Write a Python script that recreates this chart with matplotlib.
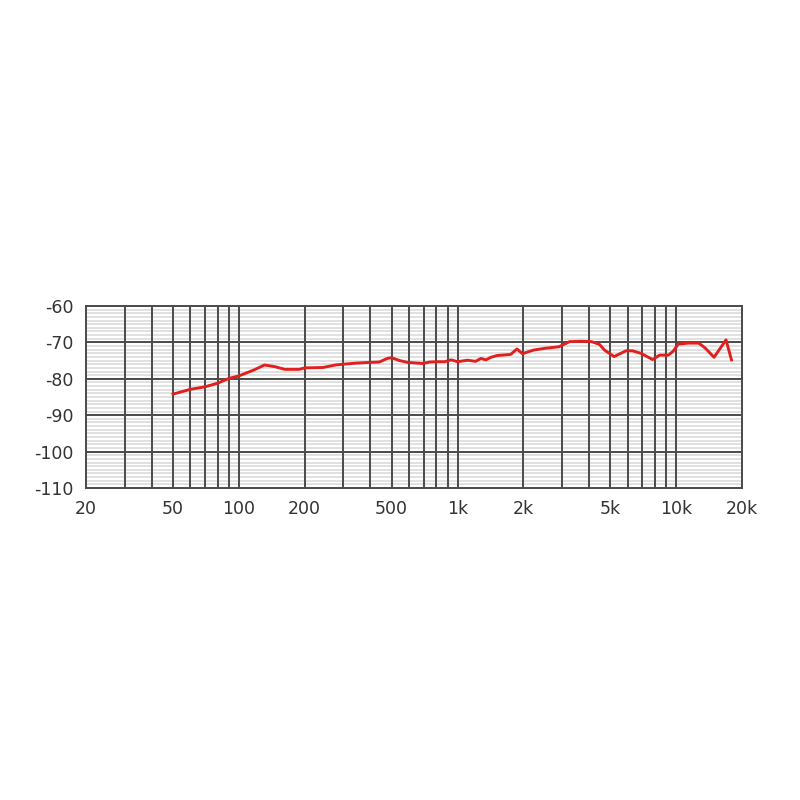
import numpy as np
import matplotlib
matplotlib.use("Agg")
import matplotlib.pyplot as plt
from matplotlib.ticker import FixedLocator, NullFormatter

# Frequency response (Hz, dB)
freq = [50, 60, 70, 80, 90, 100, 117, 131, 147, 162, 189, 200, 242, 277, 300,
        342, 394, 438, 478, 499, 544, 593, 694, 745, 813, 873, 935, 1000,
        1110, 1210, 1280, 1350, 1420, 1520, 1600, 1750, 1870, 1980, 2230,
        2530, 2910, 3250, 3690, 4100, 4450, 4700, 5200, 5900, 6300, 6900,
        7800, 8400, 9200, 9700, 10200, 11300, 12700, 13600, 14900, 16900,
        17900]
level = [-84.2, -82.9, -82.2, -81.2, -79.9, -79.2, -77.6, -76.2, -76.7, -77.4,
         -77.4, -77.0, -76.9, -76.2, -76.0, -75.7, -75.5, -75.4, -74.4, -74.2,
         -75.0, -75.5, -75.8, -75.4, -75.3, -75.3, -74.8, -75.3, -74.9, -75.2,
         -74.4, -74.8, -74.1, -73.6, -73.5, -73.3, -71.8, -73.1, -72.1, -71.6,
         -71.2, -69.8, -69.7, -69.8, -70.5, -72.1, -73.9, -72.3, -72.3, -73.0,
         -74.7, -73.5, -73.5, -72.4, -70.5, -70.2, -70.2, -71.6, -74.1, -69.3,
         -74.8]

x_ticks = [20, 50, 100, 200, 500, 1000, 2000, 5000, 10000, 20000]
x_labels = ["20", "50", "100", "200", "500", "1k", "2k", "5k", "10k", "20k"]
y_ticks = [-60, -70, -80, -90, -100, -110]
y_labels = ["-60", "-70", "-80", "-90", "-100", "-110"]

fig = plt.figure(figsize=(8, 8), dpi=100)
ax = fig.add_axes([0.1075, 0.39, 0.82, 0.2275])

ax.set_xscale("log")
ax.set_xlim(20, 20000)
ax.set_ylim(-110, -60)

# vertical grid: 1..9 per decade up to 10k
vlines = [m * d for d in (10, 100, 1000) for m in range(1, 10)] + [10000]
vlines = [v for v in vlines if v > 20]
for v in vlines:
    ax.axvline(v, color="#4a4a4a", lw=1.4, zorder=1)

# horizontal grid
for y in np.arange(-109, -60, 1):
    if y % 10 != 0:
        ax.axhline(y, color="#d9d9d9", lw=1.1, zorder=0)
for y in y_ticks[1:-1]:
    ax.axhline(y, color="#4a4a4a", lw=1.4, zorder=1)

ax.plot(freq, level, color="#e0201e", lw=2.1, zorder=3)

ax.xaxis.set_major_locator(FixedLocator(x_ticks))
ax.xaxis.set_minor_locator(FixedLocator([]))
ax.xaxis.set_minor_formatter(NullFormatter())
ax.set_xticklabels(x_labels)
ax.set_yticks(y_ticks)
ax.set_yticklabels(y_labels)
ax.tick_params(length=0, labelsize=12.5, labelcolor="#333333")
ax.tick_params(axis="x", pad=9)
ax.tick_params(axis="y", pad=9)
for lbl in ax.get_xticklabels():
    lbl.set_x(lbl.get_position()[0])

for s in ax.spines.values():
    s.set_color("#4a4a4a")
    s.set_linewidth(1.4)

fig.savefig("out.png", dpi=100, facecolor="white")
